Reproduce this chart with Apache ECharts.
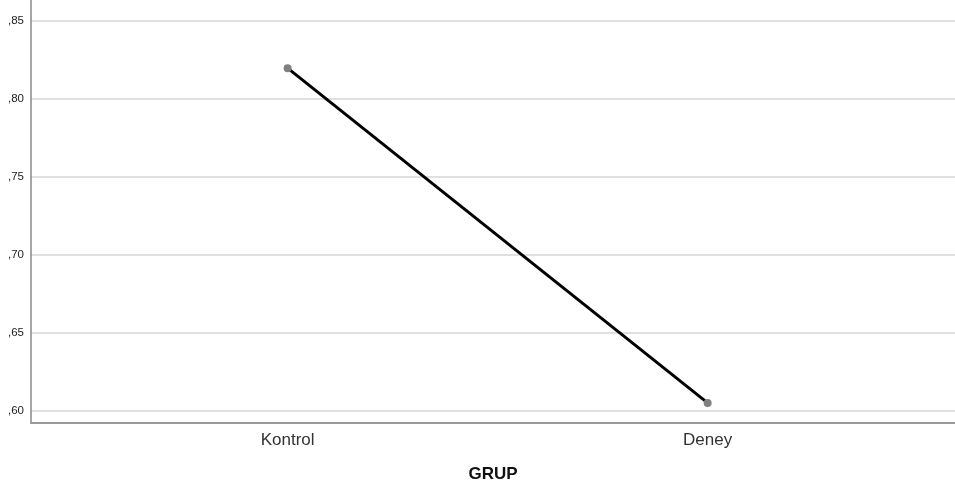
<!DOCTYPE html>
<html>
<head>
<meta charset="utf-8">
<script src="https://cdn.jsdelivr.net/npm/echarts@6/dist/echarts.min.js"></script>
<style>html,body{margin:0;padding:0;background:#fff;}#c{width:955px;height:488px;}</style>
</head>
<body>
<div id="c"></div>
<script>
var categories = ['Kontrol', 'Deney'];
var values = [0.8198, 0.6052];
var yTicks = [0.60, 0.65, 0.70, 0.75, 0.80, 0.85];
var xName = 'GRUP';

var chart = echarts.init(document.getElementById('c'), null, {renderer: 'canvas'});
var points = categories.map(function (c, i) { return [i, values[i]]; });
chart.setOption({
  animation: false,
  grid: {left: 31, right: 0, top: 0, bottom: 65, containLabel: false, outerBoundsMode: 'none'},
  xAxis: {
    type: 'value',
    min: -0.611,
    max: 1.589,
    name: xName,
    nameLocation: 'middle',
    nameGap: 43,
    nameTextStyle: {fontFamily: 'Liberation Sans', fontSize: 17, fontWeight: 'bold', color: '#111'},
    axisLine: {show: true, onZero: false, lineStyle: {color: '#999', width: 2}},
    axisTick: {show: false, customValues: [0, 1]},
    splitLine: {show: false},
    axisLabel: {
      customValues: [0, 1],
      margin: 9,
      fontFamily: 'Liberation Sans', fontSize: 17, color: '#333',
      formatter: function (v) { return categories[Math.round(v)]; }
    }
  },
  yAxis: {
    type: 'value',
    min: 0.5923,
    max: 0.8635,
    axisLine: {show: true, onZero: false, lineStyle: {color: '#888', width: 1.5}},
    axisTick: {show: false, customValues: yTicks},
    splitLine: {show: true, lineStyle: {color: '#d6d6d6', width: 1.5}},
    axisLabel: {
      customValues: yTicks,
      margin: 7,
      fontFamily: 'Liberation Sans', fontSize: 11.5, color: '#222',
      formatter: function (v) { return v.toFixed(2).replace('0.', ','); }
    }
  },
  series: [{
    type: 'line',
    data: points,
    lineStyle: {color: '#000', width: 3},
    symbol: 'circle',
    symbolSize: 8,
    itemStyle: {color: '#808080'},
    z: 3
  }]
});
</script>
</body>
</html>
